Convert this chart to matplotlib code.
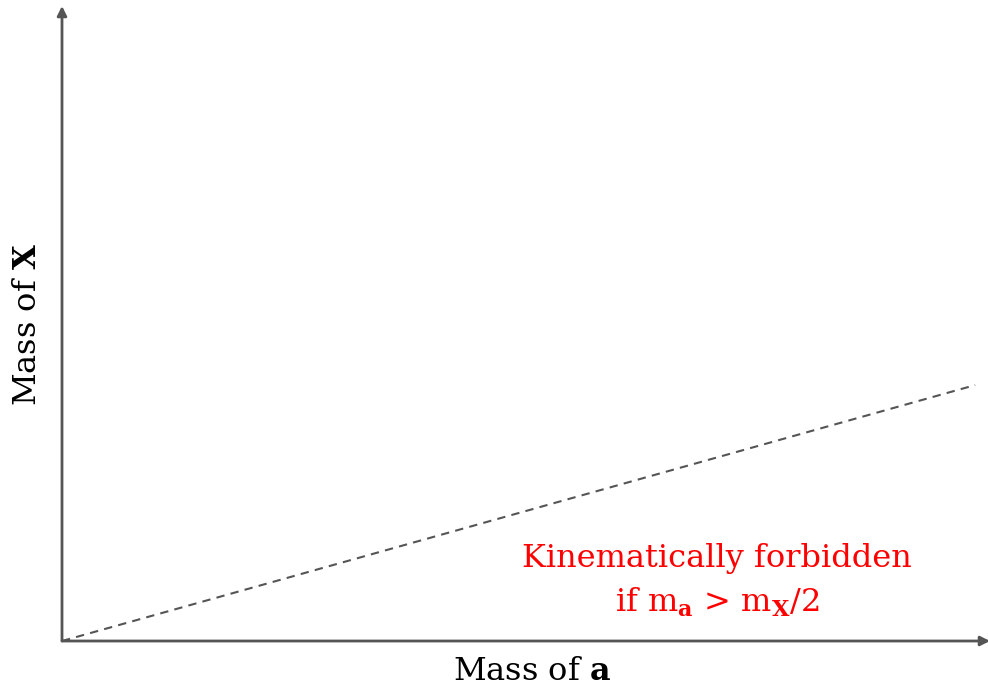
import matplotlib
matplotlib.use("Agg")
from matplotlib import pyplot as plt

# dashed boundary m_X = 2 m_a (arbitrary units)
mass_a = [0.0, 0.984]
mass_x = [0.0, 0.403]

xlabel = r"Mass of $\mathbf{a}$"
ylabel = r"Mass of $\mathbf{X}$"
note_lines = ["Kinematically forbidden", r"if m$_{\mathbf{a}}$ > m$_{\mathbf{X}}$/2"]

plt.rcParams['font.family'] = ['DejaVu Serif']
plt.rcParams['mathtext.fontset'] = 'custom'
plt.rcParams['mathtext.rm'] = 'DejaVu Serif'
plt.rcParams['mathtext.bf'] = 'DejaVu Serif:bold'

fig = plt.figure(figsize=(9.88, 6.88), dpi=100)
W, H = 988.0, 688.0
ax = fig.add_axes([62 / W, (H - 641) / H, 928 / W, 635 / H])
ax.set_xlim(0, 1)
ax.set_ylim(0, 1)
for s in ax.spines.values():
    s.set_visible(False)
ax.set_xticks([])
ax.set_yticks([])

axis_col = '#555555'
arrow = dict(arrowstyle='-|>', color=axis_col, lw=2, mutation_scale=14, shrinkA=0, shrinkB=0)
ax.annotate('', xy=(1.0, 0), xytext=(0, 0), xycoords='axes fraction', arrowprops=arrow, annotation_clip=False)
ax.annotate('', xy=(0, 1.0), xytext=(0, 0), xycoords='axes fraction', arrowprops=arrow, annotation_clip=False)

ax.plot(mass_a, mass_x, ls=(0, (4, 3)), color=axis_col, lw=1.5)

fs = 23
fig.text(532 / W, 1 - 680 / H, xlabel, ha='center', va='baseline', fontsize=fs)
fig.text(28 / W, 1 - 325 / H, ylabel, rotation=90, ha='center', va='center', fontsize=fs)

fig.text(717 / W, 1 - 567 / H, note_lines[0], ha='center', va='baseline', fontsize=fs, color='#ff0000')
fig.text(717 / W, 1 - 612 / H, note_lines[1], ha='center', va='baseline', fontsize=fs, color='#ff0000')

fig.savefig('out.png', dpi=100)
